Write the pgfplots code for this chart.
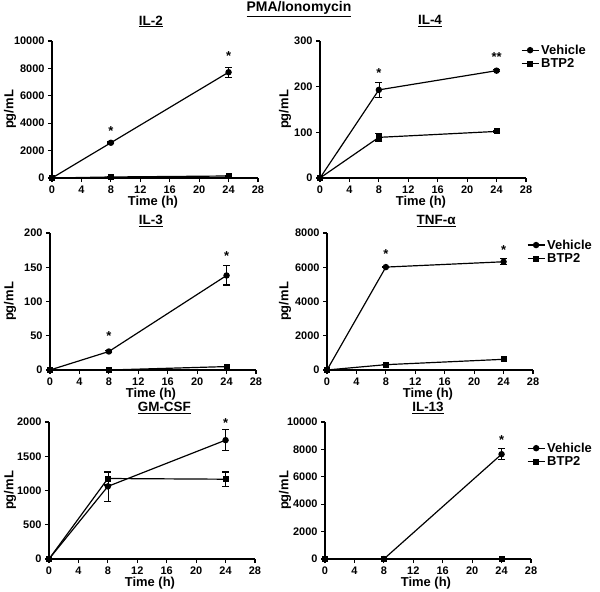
\documentclass[border=0pt]{standalone}
\usepackage{fontspec}
\setmainfont{Liberation Sans}
\usepackage{pgfplots}
\pgfplotsset{compat=1.18}

\pgfplotsset{
  panel/.style={
    scale only axis, width=206bp, height=137bp,
    anchor=north west,
    axis lines=left, axis line style={-, line width=1.2pt},
    xmin=0, xmax=28, ymin=0,
    xtick={0,4,...,28},
    scaled y ticks=false,
    tick align=outside, major tick length=4bp,
    tick style={line width=1.2pt, black},
    clip=false,
    tick label style={font=\fontsize{11}{12}\selectfont\bfseries},
    /pgf/number format/assume math mode=true,
    /pgf/number format/1000 sep={},
    label style={font=\fontsize{13}{14}\selectfont\bfseries},
    xlabel={Time (h)}, ylabel={pg/mL},
    xlabel style={at={(axis description cs:0.49,-0.175)}, anchor=center},
    title style={font=\fontsize{13.5}{15}\selectfont\bfseries, anchor=center, yshift=0pt},
    legend style={draw=none, fill=none, anchor=north west,
      font=\fontsize{13}{15}\selectfont\bfseries, legend cell align=left,
      inner sep=1pt, row sep=-1pt},
    every axis plot/.append style={black, line width=1.2pt},
  },
  ylab/.style={ylabel style={at={(axis description cs:#1,0.5)}, anchor=center}},
  errs/.style={error bars/y dir=both, error bars/y explicit,
    error bars/error mark options={rotate=90, mark size=3.5pt, line width=1.2pt}},
  veh/.style={mark=*, mark size=2.6pt, errs},
  btp/.style={mark=square*, mark size=2.4pt, errs},
  star/.style={draw=none, mark=none, forget plot,
    point meta=explicit symbolic, nodes near coords,
    every node near coord/.style={anchor=center, font=\fontsize{13}{14}\selectfont\bfseries}},
}

\begin{document}
\begin{tikzpicture}
\path[use as bounding box] (0,0) rectangle (600bp,-592bp);
\node[font=\fontsize{14}{16}\selectfont\bfseries] at (299bp,-9bp) {\underline{PMA/Ionomycin}};

% IL-2
\begin{axis}[panel, at={(52bp,-41bp)}, ymax=10000, ytick={0,2000,...,10000}, ylab=-0.204,
  title={\underline{IL-2}}, title style={at={(axis description cs:0.48,1.10)}}]
\addplot[veh] coordinates {(0,0) +- (0,0) (8,2573) +- (0,60) (24,7720) +- (0,370)};
\addplot[btp] coordinates {(0,0) +- (0,0) (8,74) +- (0,0) (24,147) +- (0,0)};
\addplot[star] coordinates {(8,3450) [*] (24,8920) [*]};
\end{axis}

% IL-4
\begin{axis}[panel, at={(320bp,-41bp)}, ymax=300, ytick={0,100,200,300}, ylab=-0.170,
  title={\underline{IL-4}}, title style={at={(axis description cs:0.534,1.10)}},
  legend style={at={(axis description cs:0.97,0.996)}}]
\addplot[veh] coordinates {(0,0) +- (0,0) (8,193) +- (0,17) (24,235) +- (0,2)};
\addlegendentry{Vehicle}
\addplot[btp] coordinates {(0,0) +- (0,0) (8,89) +- (0,8) (24,102) +- (0,2)};
\addlegendentry{BTP2}
\addplot[star] coordinates {(8,230) [*] (24,265) [**]};
\end{axis}

% IL-3
\begin{axis}[panel, at={(50bp,-233bp)}, ymax=200, ytick={0,50,...,200}, ylab=-0.194,
  title={\underline{IL-3}}, title style={at={(axis description cs:0.49,1.042)}}]
\addplot[veh] coordinates {(0,0) +- (0,0) (8,27) +- (0,1) (24,138) +- (0,14)};
\addplot[btp] coordinates {(0,0) +- (0,0) (8,0) +- (0,0) (24,5) +- (0,0)};
\addplot[star] coordinates {(8,50) [*] (24,167) [*]};
\end{axis}

% TNF-alpha
\begin{axis}[panel, at={(327bp,-233bp)}, ymax=8000, ytick={0,2000,...,8000}, ylab=-0.204,
  title={\underline{TNF-α}}, title style={at={(axis description cs:0.53,1.042)}},
  legend style={at={(axis description cs:0.965,0.975)}}]
\addplot[veh] coordinates {(0,0) +- (0,0) (8,6010) +- (0,40) (24,6320) +- (0,180)};
\addlegendentry{Vehicle}
\addplot[btp] coordinates {(0,0) +- (0,0) (8,312) +- (0,0) (24,624) +- (0,0)};
\addlegendentry{BTP2}
\addplot[star] coordinates {(8,6750) [*] (24,7000) [*]};
\end{axis}

% GM-CSF
\begin{axis}[panel, at={(49bp,-422bp)}, ymax=2000, ytick={0,500,...,2000}, ylab=-0.189,
  title={\underline{GM-CSF}}, title style={at={(axis description cs:0.56,1.058)}}]
\addplot[veh] coordinates {(0,0) +- (0,0) (8,1060) +- (0,215) (24,1735) +- (0,150)};
\addplot[btp] coordinates {(0,0) +- (0,0) (8,1175) +- (0,95) (24,1165) +- (0,105)};
\addplot[star] coordinates {(24,1990) [*]};
\end{axis}

% IL-13
\begin{axis}[panel, at={(325bp,-422bp)}, ymax=10000, ytick={0,2000,...,10000}, ylab=-0.194,
  title={\underline{IL-13}}, title style={at={(axis description cs:0.50,1.058)}},
  legend style={at={(axis description cs:0.975,0.872)}}]
\addplot[veh] coordinates {(0,0) +- (0,0) (8,0) +- (0,0) (24,7650) +- (0,390)};
\addlegendentry{Vehicle}
\addplot[btp] coordinates {(0,0) +- (0,0) (8,0) +- (0,0) (24,0) +- (0,0)};
\addlegendentry{BTP2}
\addplot[star] coordinates {(24,8700) [*]};
\end{axis}
\end{tikzpicture}
\end{document}
